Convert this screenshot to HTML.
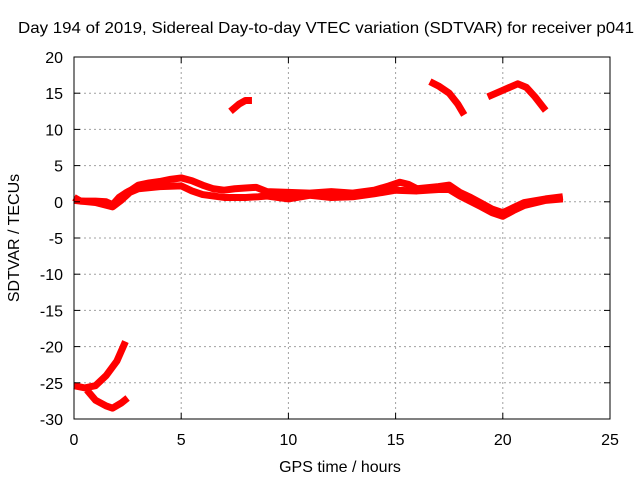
<!DOCTYPE html>
<html><head><meta charset="utf-8"><style>
body{margin:0;background:#fff;}
svg text{font-family:"Liberation Sans",sans-serif;font-size:16px;fill:#000;}
</style></head><body>
<svg id="chart" width="640" height="480" xmlns="http://www.w3.org/2000/svg">
<rect width="640" height="480" fill="#fff"/>
<g id="grid"></g><g id="series"></g><g id="axes"></g>
</svg>
<script>
const xTicks=[0,5,10,15,20,25];
const yTicks=[20,15,10,5,0,-5,-10,-15,-20,-25,-30];
const mainUpper=[[0,0.6],[0.3,0.1],[1,0.1],[1.5,0],[1.8,-0.4],[2.1,0.6],[2.4,1.2],[2.7,1.7],[3,2.3],[3.5,2.6],[4,2.8],[4.5,3.1],[5,3.3],[5.5,2.9],[6,2.3],[6.5,1.8],[7,1.6],[7.5,1.8],[8,1.9],[8.5,2],[9,1.4],[10,1.3],[11,1.2],[12,1.4],[13,1.2],[14,1.6],[14.7,2.2],[15.2,2.7],[15.6,2.4],[16,1.8],[17,2.1],[17.5,2.3],[18,1.3],[18.5,0.6],[19,-0.2],[19.5,-1],[20,-1.5],[20.5,-0.8],[21,-0.1],[22,0.4],[22.8,0.7]];
const mainLower=[[0,0.2],[1,-0.1],[1.8,-0.7],[2.2,0.2],[2.6,1.3],[3,1.8],[4,2.1],[5,2.2],[5.5,1.5],[6,1],[7,0.6],[8,0.6],[8.6,0.7],[9,0.8],[10,0.4],[11,0.9],[12,0.6],[13,0.7],[14,1.1],[15,1.6],[16,1.5],[17,1.7],[17.5,1.7],[18,0.8],[19,-0.7],[19.5,-1.5],[20,-2],[20.5,-1.2],[21,-0.5],[22,0.2],[22.8,0.4]];
const segB=[[7.3,12.5],[7.7,13.5],[8.0,14],[8.3,14]];
const segC=[[16.6,16.6],[17,16],[17.5,15],[17.9,13.5],[18.2,12]];
const segD=[[19.3,14.5],[20,15.4],[20.7,16.3],[21.1,15.8],[21.5,14.5],[22,12.6]];
const segE=[[0,-25.4],[0.5,-25.7],[1,-25.4],[1.5,-24],[2,-22],[2.4,-19.3]];
const segF=[[0.6,-26],[1,-27.4],[1.5,-28.2],[1.8,-28.5],[2.2,-27.8],[2.5,-27.1]];
const X0=74,X1=610,Y0=57,Y1=419;
function sx(v){return X0+(v-0)/(25-0)*(X1-X0);}
function sy(v){return Y1-(v+30)/(50)*(Y1-Y0);}
const NS="http://www.w3.org/2000/svg";
function mk(t,a,p){const e=document.createElementNS(NS,t);for(const k in a)e.setAttribute(k,a[k]);p.appendChild(e);return e;}
const grid=document.getElementById('grid'),axes=document.getElementById('axes'),ser=document.getElementById('series');
xTicks.forEach(v=>{
 if(v>0&&v<25){const l=mk('line',{x1:sx(v),x2:sx(v),y1:Y0,y2:Y1,stroke:'#a0a0a0','stroke-dasharray':'2,3'},grid);
 
 }
 const t=mk('text',{x:sx(v),y:Y1+26,'text-anchor':'middle'},axes);t.textContent=v;
 
 
 mk('line',{x1:sx(v),x2:sx(v),y1:Y1,y2:Y1-6,stroke:'#000'},axes);
 mk('line',{x1:sx(v),x2:sx(v),y1:Y0,y2:Y0+6,stroke:'#000'},axes);
});
yTicks.forEach(v=>{
 if(v<20&&v>-30){const l=mk('line',{x1:X0,x2:X1,y1:sy(v),y2:sy(v),stroke:'#a0a0a0','stroke-dasharray':'2,3'},grid);
 
 }
 const t=mk('text',{x:X0-11,y:sy(v)+6,'text-anchor':'end'},axes);t.textContent=v;
 
 
 mk('line',{x1:X0,x2:X0+6,y1:sy(v),y2:sy(v),stroke:'#000'},axes);
 mk('line',{x1:X1,x2:X1-6,y1:sy(v),y2:sy(v),stroke:'#000'},axes);
});
const fr=mk('rect',{x:X0,y:Y0,width:X1-X0,height:Y1-Y0,fill:'none',stroke:'#000'},axes);


[['series-main-upper',mainUpper],['series-main-lower',mainLower],['series-segment-b',segB],['series-segment-c',segC],['series-segment-d',segD],['series-segment-e',segE],['series-segment-f',segF]].forEach(([n,d])=>{
 const p=mk('polyline',{points:d.map(q=>sx(q[0])+','+sy(q[1])).join(' '),fill:'none',stroke:'#ff0000','stroke-width':7,'stroke-linejoin':'round'},ser);
 
 
});
let t=mk('text',{x:326,y:33,'text-anchor':'middle',textLength:616,lengthAdjust:'spacingAndGlyphs'},axes);t.textContent='Day 194 of 2019, Sidereal Day-to-day VTEC variation (SDTVAR) for receiver p041';


t=mk('text',{x:340,y:472,'text-anchor':'middle'},axes);t.textContent='GPS time / hours';


t=mk('text',{x:19,y:238,'text-anchor':'middle',transform:'rotate(-90 19 238)'},axes);t.textContent='SDTVAR / TECUs';


</script>
</body></html>
